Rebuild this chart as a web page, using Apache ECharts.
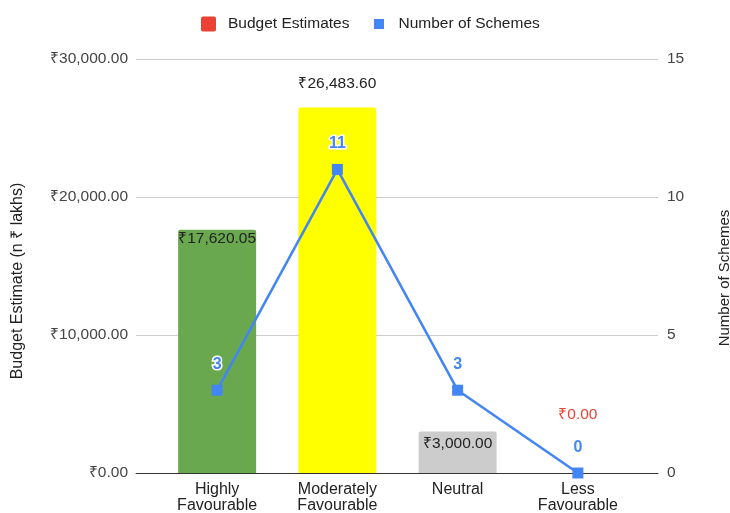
<!DOCTYPE html>
<html>
<head>
<meta charset="utf-8">
<script src="https://cdn.jsdelivr.net/npm/echarts@6/dist/echarts.min.js"></script>
<style>
  html, body { margin: 0; padding: 0; background: #fff; }
  #chart { width: 730px; height: 513px; }
</style>
</head>
<body>
<div id="chart"></div>
<script>
// data
const categories = ['Highly\nFavourable', 'Moderately\nFavourable', 'Neutral', 'Less\nFavourable']
const budgetValues = [17620.05, 26483.60, 3000.00, 0]
const schemeCounts = [3, 11, 3, 0]
const barColors = ['#6aa84f', '#ffff00', '#cccccc', '#ea4335']

const FONT = 'Arial, "Liberation Sans", sans-serif'
const fmtRupee = v => '₹' + Number(v).toLocaleString('en-US', { minimumFractionDigits: 2, maximumFractionDigits: 2 })

// bar label placement, tuned per bar like the original
const barLabels = [
    { position: 'insideTop', distance: 1, color: '#222' },
    { position: 'top', distance: 16, color: '#222' },
    { position: 'insideTop', distance: 4, color: '#222' },
    { position: 'top', distance: 50, color: '#ea4335' }
]

const chart = echarts.init(document.getElementById('chart'), null, { renderer: 'canvas' })

const option = {
    backgroundColor: '#fff',
    textStyle: { fontFamily: FONT },
    legend: {
        top: 11,
        left: 196,
        itemGap: 22,
        itemWidth: 15,
        itemHeight: 15,
        textStyle: { fontSize: 15.5, color: '#222', fontFamily: FONT, padding: [0, 0, 0, 7] },
        data: [
            { name: 'Budget Estimates', icon: 'path://M2,0h11a2,2 0 0 1 2,2v11a2,2 0 0 1 -2,2h-11a2,2 0 0 1 -2,-2v-11a2,2 0 0 1 2,-2z', itemStyle: { color: '#ea4335' } },
            { name: 'Number of Schemes', icon: 'path://M0,0M15,15M2.5,2.5h10v10h-10z', itemStyle: { color: '#4285f4' } }
        ]
    },
    grid: [
        // frame grid: gridlines, axis labels and names
        { left: 136, right: 72, top: 59, bottom: 40, outerBoundsMode: 'none', containLabel: false },
        // plotting grid: category band narrower than the gridlines
        { left: 157, right: 92, top: 59, bottom: 40, outerBoundsMode: 'none', containLabel: false }
    ],
    xAxis: [
        {
            gridIndex: 0,
            type: 'category',
            data: ['a'],
            axisLine: { show: true, lineStyle: { color: '#333', width: 1 } },
            axisTick: { show: false },
            axisLabel: { show: false },
            splitLine: { show: false }
        },
        {
            gridIndex: 1,
            type: 'category',
            data: categories,
            axisLine: { show: false },
            axisTick: { show: false },
            axisLabel: { fontSize: 16, color: '#222', lineHeight: 16, margin: 9, interval: 0 },
            splitLine: { show: false }
        }
    ],
    yAxis: [
        {
            gridIndex: 0,
            type: 'value',
            min: 0, max: 30000, interval: 10000,
            name: 'Budget Estimate (n ₹ lakhs)',
            nameLocation: 'middle',
            nameRotate: 90,
            nameGap: 110,
            nameMoveOverlap: false,
            nameTextStyle: { fontSize: 16, color: '#222', padding: [0, 30, 0, 0] },
            axisLine: { show: false },
            axisTick: { show: false },
            axisLabel: { fontSize: 15.5, color: '#444', margin: 8, formatter: fmtRupee },
            splitLine: { show: true, lineStyle: { color: '#cccccc', width: 1 } }
        },
        {
            gridIndex: 0,
            type: 'value',
            position: 'right',
            min: 0, max: 15, interval: 5,
            name: 'Number of Schemes',
            nameLocation: 'middle',
            nameRotate: 90,
            nameGap: 59,
            nameMoveOverlap: false,
            nameTextStyle: { fontSize: 15, color: '#222', padding: [0, 24, 0, 0] },
            axisLine: { show: false },
            axisTick: { show: false },
            axisLabel: { fontSize: 15.5, color: '#444', margin: 9 },
            splitLine: { show: false }
        },
        { gridIndex: 1, type: 'value', min: 0, max: 30000, show: false },
        { gridIndex: 1, type: 'value', min: 0, max: 15, show: false, position: 'right' }
    ],
    series: [
        {
            name: 'Budget Estimates',
            type: 'bar',
            xAxisIndex: 1,
            yAxisIndex: 2,
            barWidth: 78,
            color: '#ea4335',
            data: budgetValues.map((v, i) => ({
                value: v,
                itemStyle: { color: barColors[i], borderRadius: [2, 2, 0, 0] },
                label: barLabels[i]
            })),
            label: {
                show: true,
                fontSize: 15.5,
                formatter: p => fmtRupee(p.value)
            },
            animation: false
        },
        {
            name: 'Number of Schemes',
            type: 'line',
            xAxisIndex: 1,
            yAxisIndex: 3,
            color: '#4285f4',
            data: schemeCounts,
            symbol: 'rect',
            symbolSize: 11,
            lineStyle: { width: 2.5, color: '#4285f4' },
            itemStyle: { color: '#4285f4' },
            label: {
                show: true,
                position: 'top',
                distance: 12,
                fontSize: 16,
                fontWeight: 'bold',
                color: '#4285f4',
                textBorderColor: '#fff',
                textBorderWidth: 3
            },
            z: 5,
            animation: false
        }
    ]
}

chart.setOption(option)
</script>
</body>
</html>
